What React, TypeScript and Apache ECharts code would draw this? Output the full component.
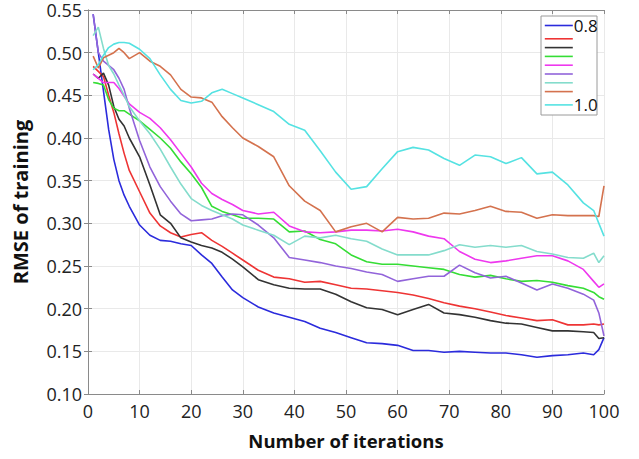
import React, { useEffect, useRef } from "react";
import * as echarts from "echarts";

const iterations = [1, 2, 3, 4, 5, 6, 7, 8, 10, 12, 14, 16, 18, 20, 22, 24, 26, 28, 30, 33, 36, 39, 42, 45, 48, 51, 54, 57, 60, 63, 66, 69, 72, 75, 78, 81, 84, 87, 90, 93, 96, 98, 99, 100];

const s080 = [0.545, 0.5, 0.455, 0.41, 0.375, 0.35, 0.333, 0.32, 0.298, 0.286, 0.28, 0.279, 0.276, 0.274, 0.263, 0.253, 0.237, 0.222, 0.213, 0.202, 0.195, 0.19, 0.185, 0.177, 0.172, 0.166, 0.16, 0.159, 0.157, 0.151, 0.151, 0.149, 0.15, 0.149, 0.148, 0.148, 0.146, 0.143, 0.145, 0.146, 0.148, 0.146, 0.152, 0.166];
const s0825 = [0.484, 0.478, 0.472, 0.45, 0.43, 0.405, 0.382, 0.362, 0.337, 0.312, 0.297, 0.289, 0.284, 0.287, 0.289, 0.28, 0.273, 0.265, 0.257, 0.245, 0.237, 0.235, 0.231, 0.232, 0.228, 0.224, 0.223, 0.221, 0.219, 0.216, 0.212, 0.207, 0.203, 0.2, 0.196, 0.192, 0.189, 0.186, 0.187, 0.181, 0.181, 0.182, 0.181, 0.182];
const s085 = [0.475, 0.47, 0.476, 0.462, 0.437, 0.422, 0.414, 0.4, 0.378, 0.345, 0.31, 0.3, 0.283, 0.278, 0.274, 0.271, 0.266, 0.258, 0.249, 0.234, 0.228, 0.224, 0.223, 0.223, 0.217, 0.208, 0.201, 0.199, 0.193, 0.199, 0.205, 0.195, 0.193, 0.19, 0.186, 0.183, 0.182, 0.178, 0.174, 0.174, 0.173, 0.172, 0.165, 0.166];
const s0875 = [0.465, 0.464, 0.462, 0.445, 0.435, 0.432, 0.432, 0.428, 0.42, 0.41, 0.4, 0.388, 0.372, 0.358, 0.342, 0.32, 0.314, 0.31, 0.306, 0.306, 0.305, 0.29, 0.291, 0.281, 0.276, 0.263, 0.255, 0.252, 0.252, 0.25, 0.248, 0.246, 0.24, 0.237, 0.239, 0.235, 0.232, 0.233, 0.231, 0.227, 0.224, 0.219, 0.214, 0.211];
const s090 = [0.475, 0.47, 0.465, 0.465, 0.465, 0.458, 0.449, 0.44, 0.43, 0.423, 0.412, 0.398, 0.382, 0.366, 0.347, 0.335, 0.328, 0.322, 0.315, 0.311, 0.313, 0.297, 0.29, 0.289, 0.29, 0.292, 0.292, 0.291, 0.293, 0.29, 0.285, 0.282, 0.267, 0.258, 0.254, 0.256, 0.259, 0.262, 0.262, 0.256, 0.246, 0.232, 0.225, 0.229];
const s0925 = [0.545, 0.5, 0.49, 0.485, 0.48, 0.47, 0.457, 0.435, 0.397, 0.366, 0.343, 0.326, 0.311, 0.303, 0.304, 0.305, 0.309, 0.311, 0.31, 0.298, 0.283, 0.26, 0.257, 0.254, 0.25, 0.247, 0.243, 0.24, 0.232, 0.235, 0.238, 0.238, 0.251, 0.242, 0.236, 0.238, 0.23, 0.222, 0.229, 0.224, 0.217, 0.21, 0.195, 0.168];
const s095 = [0.52, 0.53, 0.505, 0.485, 0.475, 0.462, 0.45, 0.437, 0.42, 0.405, 0.387, 0.366, 0.346, 0.329, 0.321, 0.315, 0.31, 0.305, 0.298, 0.292, 0.286, 0.275, 0.285, 0.283, 0.286, 0.282, 0.279, 0.27, 0.263, 0.263, 0.263, 0.268, 0.275, 0.272, 0.274, 0.272, 0.274, 0.267, 0.264, 0.26, 0.259, 0.265, 0.254, 0.262];
const s0975 = [0.496, 0.482, 0.494, 0.497, 0.5, 0.505, 0.5, 0.493, 0.5, 0.49, 0.484, 0.474, 0.457, 0.448, 0.447, 0.442, 0.425, 0.412, 0.4, 0.39, 0.378, 0.344, 0.326, 0.315, 0.29, 0.296, 0.3, 0.29, 0.307, 0.305, 0.306, 0.312, 0.311, 0.315, 0.32, 0.314, 0.313, 0.306, 0.31, 0.309, 0.309, 0.309, 0.308, 0.344];
const s100 = [0.48, 0.486, 0.497, 0.506, 0.51, 0.512, 0.512, 0.511, 0.504, 0.493, 0.474, 0.457, 0.444, 0.441, 0.443, 0.453, 0.457, 0.452, 0.447, 0.439, 0.431, 0.416, 0.409, 0.385, 0.36, 0.34, 0.343, 0.364, 0.384, 0.389, 0.386, 0.376, 0.368, 0.38, 0.378, 0.37, 0.377, 0.358, 0.36, 0.345, 0.324, 0.315, 0.3, 0.285];

const seriesNames = ["0.8", "0.825", "0.85", "0.875", "0.9", "0.925", "0.95", "0.975", "1.0"];
const seriesValues = [s080, s0825, s085, s0875, s090, s0925, s095, s0975, s100];
const seriesColors = ["#2b2bdc", "#ee3434", "#333333", "#35dd35", "#ee38ee", "#9264da", "#84dccc", "#d4724e", "#55e2e2"];
const legendShown = ["0.8", "1.0"];

const yTicks = [0.1, 0.15, 0.2, 0.25, 0.3, 0.35, 0.4, 0.45, 0.5, 0.55];
const xTicks = [0, 10, 20, 30, 40, 50, 60, 70, 80, 90, 100];

const FONT = "'Open Sans', 'DejaVu Sans', sans-serif";

export default function App() {
  const ref = useRef<HTMLDivElement>(null);
  useEffect(() => {
    if (!ref.current) return;
    const chart = echarts.init(ref.current, null, { renderer: "svg" });
    const axisLineStyle = { color: "#8a8a8a", width: 1 };
    const option: any = {
      animation: false,
      backgroundColor: "#ffffff",
      grid: { left: 88, right: 35, top: 10, bottom: 65, containLabel: false },
      xAxis: [
        {
          type: "value",
          min: xTicks[0],
          max: xTicks[xTicks.length - 1],
          interval: 10,
          name: "Number of iterations",
          nameLocation: "middle",
          nameGap: 37,
          nameTextStyle: { fontFamily: FONT, fontSize: 18.5, fontWeight: "bold", color: "#111" },
          axisLine: { show: true, lineStyle: axisLineStyle },
          axisTick: { show: true, inside: true, length: 4, lineStyle: axisLineStyle },
          axisLabel: { fontFamily: FONT, fontSize: 18, color: "#222", margin: 8 },
          splitLine: { show: true, lineStyle: { color: "#e9e9e9", width: 1 } },
        },
        {
          type: "value",
          position: "top",
          min: xTicks[0],
          max: xTicks[xTicks.length - 1],
          interval: 10,
          axisLine: { show: true, lineStyle: axisLineStyle },
          axisTick: { show: true, inside: true, length: 4, lineStyle: axisLineStyle },
          axisLabel: { show: false },
          splitLine: { show: false },
        },
      ],
      yAxis: [
        {
          type: "value",
          min: yTicks[0],
          max: yTicks[yTicks.length - 1],
          interval: 0.05,
          name: "RMSE of training",
          nameLocation: "middle",
          nameGap: 58,
          nameTextStyle: { fontFamily: FONT, fontSize: 20, fontWeight: "bold", color: "#111" },
          axisLine: { show: true, lineStyle: axisLineStyle },
          axisTick: { show: true, inside: true, length: 4, lineStyle: axisLineStyle },
          axisLabel: { fontFamily: FONT, fontSize: 18, lineHeight: 16, color: "#222", margin: 6, formatter: (v: number) => v.toFixed(2) },
          splitLine: { show: true, lineStyle: { color: "#e9e9e9", width: 1 } },
        },
        {
          type: "value",
          position: "right",
          min: yTicks[0],
          max: yTicks[yTicks.length - 1],
          interval: 0.05,
          axisLine: { show: true, lineStyle: axisLineStyle },
          axisTick: { show: true, inside: true, length: 4, lineStyle: axisLineStyle },
          axisLabel: { show: false },
          splitLine: { show: false },
        },
      ],
      graphic: [
        {
          type: "rect",
          shape: { x: 541, y: 16, width: 56, height: 99 },
          style: { fill: "#ffffff", stroke: "#9a9a9a", lineWidth: 1 },
          z: 90,
        },
      ],
      legend: {
        orient: "vertical",
        left: 541,
        top: 17,
        padding: [0, 0, 0, 3],
        itemWidth: 28,
        itemHeight: 10,
        itemGap: 0.8,
        z: 100,
        itemStyle: { opacity: 0 },
        lineStyle: { width: 1.6 },
        data: seriesNames.map((n) => ({ name: n })),
        formatter: (name: string) => (legendShown.includes(name) ? name : ""),
        textStyle: { fontFamily: FONT, fontSize: 17, lineHeight: 10, color: "#111", padding: [0, 0, 0, -4] },
      },
      series: seriesNames.map((name, i) => ({
        name,
        type: "line",
        symbol: "none",
        showSymbol: false,
        smooth: false,
        data: iterations.map((x, j) => [x, seriesValues[i][j]]),
        lineStyle: { color: seriesColors[i], width: 1.6 },
        itemStyle: { color: seriesColors[i] },
        z: 2 + i,
      })),
    };
    chart.setOption(option);
    return () => chart.dispose();
  }, []);
  return <div ref={ref} style={{ width: 639, height: 459, position: "absolute", left: 0, top: 0 }} />;
}
